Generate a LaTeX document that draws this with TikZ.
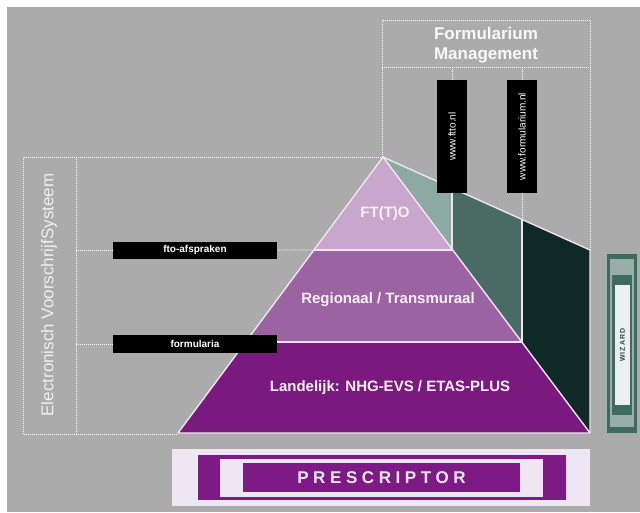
\documentclass[tikz,border=0pt]{standalone}
\usepackage{fontspec}
\setmainfont{Liberation Sans}
\newfontfamily\spacedfont[LetterSpace=27]{Liberation Sans}
\usetikzlibrary{calc}
\definecolor{bgc}{HTML}{ABABAB}
\definecolor{lilacA}{HTML}{C9A6CC}
\definecolor{lilacB}{HTML}{9B63A1}
\definecolor{lilacC}{HTML}{7A1A7E}
\definecolor{tealA}{HTML}{8CA9A3}
\definecolor{tealB}{HTML}{4A6B63}
\definecolor{tealC}{HTML}{0F2926}
\definecolor{edgec}{HTML}{F2E4F2}
\definecolor{lavender}{HTML}{EEE6F2}
\definecolor{presc}{HTML}{7D1A86}
\definecolor{wizdark}{HTML}{3F6A5E}
\definecolor{wizlight}{HTML}{97AFA7}
\definecolor{wizwhite}{HTML}{ECEFF0}
\begin{document}
\begin{tikzpicture}[x=1pt,y=-1pt,
  dotline/.style={draw=white!95!gray, line width=0.9pt, dash pattern=on 0.9pt off 1.1pt},
  edgeline/.style={draw=edgec, line width=1.4pt},
  blackbox/.style={fill=black, inner sep=0pt, text=white, font=\bfseries\fontsize{10}{12}\selectfont},
  layertext/.style={text=white!94!magenta, font=\bfseries\fontsize{15}{17}\selectfont},
  vbox/.style={blackbox, minimum width=113pt, minimum height=30pt, rotate=90, font=\fontsize{10}{12}\selectfont}]
\useasboundingbox (0,0) rectangle (640,512);
\fill[white] (0,0) rectangle (640,512);
\fill[bgc] (7,7) rectangle (640,512);

% key points
\coordinate (A) at (383,157);
\coordinate (L) at (178,433);
\coordinate (R) at (590,433);
\coordinate (L1) at ($(A)!0.337!(L)$);
\coordinate (R1) at ($(A)!0.337!(R)$);
\coordinate (L2) at ($(A)!0.670!(L)$);
\coordinate (R2) at ($(A)!0.670!(R)$);
\coordinate (T1) at (452,188);
\coordinate (T2) at (522,219);
\coordinate (T3) at (590,250);
\coordinate (B1) at (452,250);
\coordinate (B2) at (522,342);

% green panels
\fill[tealA] (A) -- (T1) -- (B1) -- cycle;
\fill[tealB] (T1) -- (T2) -- (B2) -- (B1) -- cycle;
\fill[tealC] (T2) -- (T3) -- (R) -- (B2) -- cycle;

% pyramid layers
\fill[lilacA] (A) -- (R1) -- (L1) -- cycle;
\fill[lilacB] (L1) -- (R1) -- (R2) -- (L2) -- cycle;
\fill[lilacC] (L2) -- (R2) -- (R) -- (L) -- cycle;

\draw[edgeline, line join=round] (L) -- (A) -- (R) -- cycle;
\draw[edgeline] (L1) -- (R1);
\draw[edgeline] (L2) -- (R2);
\draw[edgeline] (A) -- (T3) -- (R);
\draw[edgeline] (T1) -- (B1);
\draw[edgeline] (T2) -- (B2);

\node[layertext] (fto) at (385,214) {FT(T)O};
\node[layertext] (reg) at (388,300) {Regionaal / Transmuraal};
\node[layertext] (land) at (390,388) {Landelijk: NHG-EVS / ETAS-PLUS};

% Formularium Management box
\draw[dotline] (382,157) -- (382,20) -- (590,20) -- (590,250);
\draw[dotline] (382,67) -- (590,67);
\node[text=white!95!gray, font=\bfseries\fontsize{17}{19.5}\selectfont, align=center] (fm) at (486,45) {Formularium\\Management};
\node[vbox] (ftto) at (452,136.5) {www.ftto.nl};
\node[vbox] (form) at (522,136.5) {www.formularium.nl};
\draw[dotline] (452,67) -- (ftto.east);
\draw[dotline] (522,67) -- (form.east);
\draw[dotline] (form.west) -- (T2);

% Electronisch VoorschrijfSysteem box
\draw[dotline] (A) -- (23,157) -- (23,434) -- (178,434);
\draw[dotline] (76,157) -- (76,434);
\node[rotate=90, text=white!88!gray, font=\fontsize{17}{20}\selectfont] (evs) at (49,295) {Electronisch VoorschrijfSysteem};

\node[blackbox, minimum width=164pt, minimum height=17pt] (afs) at (195,250) {fto-afspraken};
\node[blackbox, minimum width=164pt, minimum height=18pt] (forml) at (195,344) {formularia};
\draw[dotline] (afs.west -| 76,0) -- (afs.west);
\draw[dotline] (afs.east) -- (L1);
\draw[dotline] (forml.west -| 76,0) -- (forml.west);

% Prescriptor
\node[fill=lavender, minimum width=418pt, minimum height=57pt, inner sep=0pt] (p0) at (381,477.5) {};
\node[fill=presc, minimum width=368pt, minimum height=45pt, inner sep=0pt] (p1) at (382,477.5) {};
\node[fill=lavender, minimum width=323pt, minimum height=38pt, inner sep=0pt] (p2) at (381.5,478) {};
\node[fill=presc, minimum width=277pt, minimum height=29pt, inner sep=0pt, text=lavender, font=\spacedfont\bfseries\fontsize{17}{19}\selectfont] (presc) at (381.5,477.5) {PRESCRIPTOR};

% Wizard
\node[fill=wizdark, minimum width=30pt, minimum height=179pt, inner sep=0pt] (w0) at (622,343.5) {};
\node[fill=wizlight, minimum width=24pt, minimum height=168pt, inner sep=0pt] (w1) at (622,343) {};
\node[fill=wizdark, minimum width=20pt, minimum height=140pt, inner sep=0pt] (w2) at (622,345) {};
\node[fill=wizwhite, minimum width=120pt, minimum height=15pt, inner sep=0pt, rotate=90, text=wizdark!70!black, font=\bfseries\fontsize{7}{8}\selectfont] (wiz) at (622.5,345) {W\,I\,Z\,A\,R\,D};
\end{tikzpicture}
\end{document}
